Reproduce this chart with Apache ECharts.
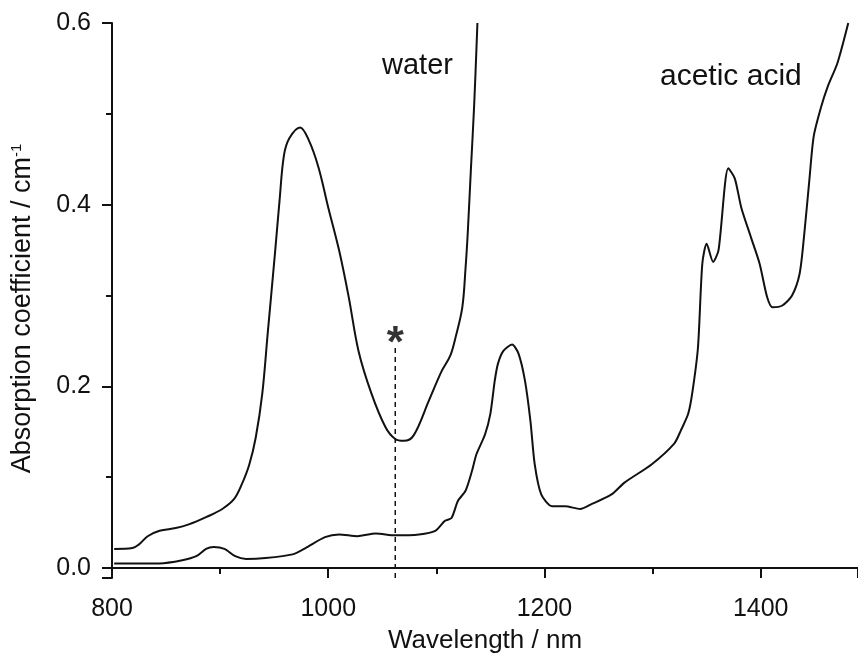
<!DOCTYPE html>
<html>
	<head>
		<meta charset="utf-8">
		<script src="https://cdn.jsdelivr.net/npm/echarts@6/dist/echarts.min.js"></script>
		<title></title>
		<style>
			html, body { margin: 0; padding: 0; background: #fff; }
			#spectra { width: 858px; height: 660px; }
		</style>
	</head>
	<body>
		<div id="spectra"></div>
	</body>

	<script>
		// water absorption (nm, cm-1)
		let waterX = [802, 819, 825, 833, 844, 859, 871, 887, 902, 913,
			920, 927, 933, 939, 944, 951, 955, 959, 964, 974,
			982, 991, 1000, 1010, 1019, 1028, 1040, 1053, 1062, 1070,
			1079, 1093, 1105, 1113, 1118, 1124, 1127, 1129, 1132, 1135, 1138];
		let waterY = [0.021, 0.022, 0.026, 0.035, 0.041, 0.044, 0.048, 0.056, 0.065, 0.076,
			0.092, 0.114, 0.144, 0.192, 0.258, 0.350, 0.405, 0.454, 0.473, 0.485,
			0.471, 0.441, 0.397, 0.350, 0.298, 0.239, 0.192, 0.155, 0.142, 0.140,
			0.146, 0.184, 0.217, 0.234, 0.255, 0.287, 0.330, 0.368, 0.440, 0.510, 0.600];

		// acetic acid absorption
		let aceticX = [802, 844, 865, 878, 887, 894, 904, 914, 924, 942,
			967, 979, 997, 1010, 1027, 1044, 1062, 1084, 1099, 1108,
			1114, 1120, 1127, 1133, 1137, 1145, 1150, 1154, 1157, 1162,
			1170, 1176, 1182, 1187, 1191, 1197, 1207, 1219, 1233, 1243,
			1262, 1274, 1299, 1320, 1326, 1333, 1337, 1342, 1346, 1350,
			1356, 1361, 1370, 1376, 1382, 1391, 1399, 1406, 1411, 1420,
			1429, 1436, 1440, 1445, 1449, 1456, 1462, 1471, 1481];
		let aceticY = [0.005, 0.005, 0.0085, 0.013, 0.021, 0.023, 0.021, 0.013, 0.010, 0.011,
			0.015, 0.022, 0.034, 0.037, 0.035, 0.038, 0.036, 0.037, 0.041, 0.052,
			0.055, 0.074, 0.085, 0.107, 0.125, 0.147, 0.170, 0.206, 0.225, 0.239,
			0.246, 0.236, 0.206, 0.162, 0.114, 0.081, 0.068, 0.068, 0.065, 0.070,
			0.081, 0.094, 0.114, 0.137, 0.151, 0.170, 0.195, 0.243, 0.335, 0.357,
			0.337, 0.350, 0.440, 0.429, 0.397, 0.364, 0.335, 0.298, 0.287, 0.289,
			0.300, 0.324, 0.364, 0.427, 0.475, 0.508, 0.530, 0.556, 0.600];

		// dashed marker at the laser line, with its asterisk
		let markerX = [1062, 1062];
		let markerY = [-0.011, 0.243];
		let starPos = [1062, 0.246];

		let xTicks = [800, 1000, 1200, 1400];
		let yTicks = [0.0, 0.2, 0.4, 0.6];

		function pairs(xs, ys) {
			let out = [];
			for (let i = 0; i < xs.length; i++) {
				out.push([xs[i], ys[i]]);
			}
			return out;
		}

		const font = '"Liberation Sans", Arial, sans-serif';
		const chart = echarts.init(document.getElementById('spectra'));

		chart.setOption({
			animation: false,
			textStyle: { fontFamily: font },
			grid: { left: 112, right: 0, top: 23, bottom: 82 },
			xAxis: {
				type: 'value',
				min: 800,
				max: 1490,
				interval: 200,
				name: 'Wavelength / nm',
				nameLocation: 'middle',
				nameGap: 50,
				nameTextStyle: { fontSize: 26, color: '#111', fontFamily: font },
				axisLine: { lineStyle: { color: '#111', width: 2 } },
				axisTick: { length: 10, lineStyle: { color: '#111', width: 2 } },
				minorTick: { show: true, splitNumber: 2, length: 6, lineStyle: { color: '#111', width: 2 } },
				axisLabel: {
					fontSize: 25, color: '#111', margin: 19, showMaxLabel: false,
					formatter: function (v) { return xTicks.indexOf(v) >= 0 ? String(v) : ''; }
				},
				splitLine: { show: false }
			},
			yAxis: {
				type: 'value',
				min: -0.011,
				max: 0.6,
				splitNumber: 3,
				name: '{a|Absorption coefficient / cm}{s|-1}',
				nameLocation: 'middle',
				nameGap: 76,
				nameTextStyle: {
					color: '#111',
					padding: [0, 16, 0, 0],
					rich: {
						a: { fontSize: 27, color: '#111', fontFamily: font },
						s: { fontSize: 15, color: '#111', fontFamily: font, padding: [0, 0, 12, 0] }
					}
				},
				axisLine: { lineStyle: { color: '#111', width: 2 } },
				axisTick: { length: 10, lineStyle: { color: '#111', width: 2 } },
				minorTick: { show: true, splitNumber: 2, length: 6, lineStyle: { color: '#111', width: 2 } },
				axisLabel: {
					fontSize: 25, color: '#111', margin: 21, showMinLabel: false,
					formatter: function (v) {
						for (let i = 0; i < yTicks.length; i++) {
							if (Math.abs(v - yTicks[i]) < 1e-6) return yTicks[i].toFixed(1);
						}
						return '';
					}
				},
				splitLine: { show: false }
			},
			graphic: [
				{ type: 'text', left: 382, top: 51, style: { text: 'water', fontSize: 29, fill: '#111', fontFamily: font } },
				{ type: 'text', left: 660, top: 62, style: { text: 'acetic acid', fontSize: 30, fill: '#111', fontFamily: font } }
			],
			series: [
				{
					name: 'water',
					type: 'line',
					data: pairs(waterX, waterY),
					showSymbol: false,
					smooth: 0.35,
					lineStyle: { color: '#111', width: 2 }
				},
				{
					name: 'acetic acid',
					type: 'line',
					data: pairs(aceticX, aceticY),
					showSymbol: false,
					smooth: 0.25,
					lineStyle: { color: '#111', width: 2 }
				},
				{
					name: 'marker',
					type: 'line',
					data: pairs(markerX, markerY),
					showSymbol: false,
					lineStyle: { color: '#111', width: 1.5, type: [5, 4] }
				},
				{
					name: 'star',
					type: 'scatter',
					data: [starPos],
					symbolSize: 0,
					label: {
						show: true,
						position: 'inside',
						formatter: '*',
						fontSize: 44,
						fontWeight: 'bold',
						color: '#000',
						fontFamily: font
					}
				}
			]
		});
	</script>
</html>
